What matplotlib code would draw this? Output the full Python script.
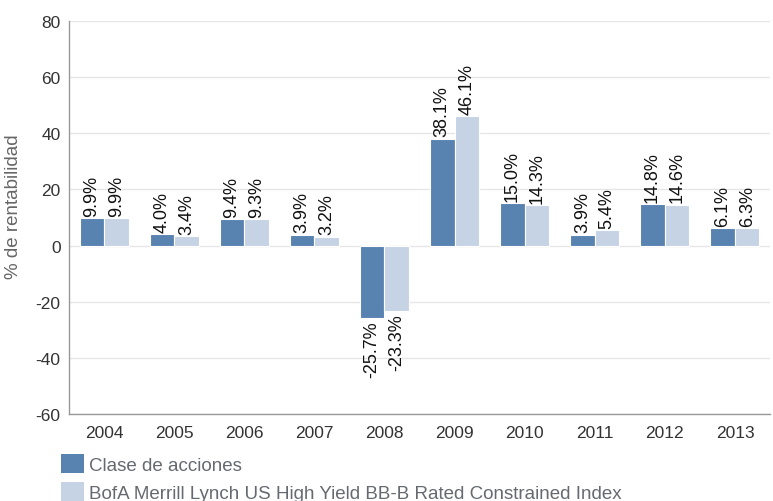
import numpy as np
import matplotlib
matplotlib.use('Agg')
import matplotlib.pyplot as plt
from matplotlib.patches import Patch

plt.rcParams['font.family'] = ['Liberation Sans', 'DejaVu Sans']
plt.rcParams['axes.unicode_minus'] = False

# data
years = ['2004', '2005', '2006', '2007', '2008', '2009', '2010', '2011', '2012', '2013']
clase = [9.9, 4.0, 9.4, 3.9, -25.7, 38.1, 15.0, 3.9, 14.8, 6.1]
bofa = [9.9, 3.4, 9.3, 3.2, -23.3, 46.1, 14.3, 5.4, 14.6, 6.3]
series_names = ['Clase de acciones', 'BofA Merrill Lynch US High Yield BB-B Rated Constrained Index']
y_ticks = [-60, -40, -20, 0, 20, 40, 60, 80]

dark = '#5882b0'
light = '#c5d3e5'
colors = [dark, light]

fig = plt.figure(figsize=(7.73, 5.02), dpi=100)
ax = fig.add_axes([69/773, 1 - 415/502, 701/773, (415 - 22)/502])

x = np.arange(len(years))
w = 0.35
for i, (vals, col) in enumerate(zip([clase, bofa], colors)):
    pos = x + (i - 0.5) * w
    ax.bar(pos, vals, width=w, color=col, edgecolor='white', linewidth=0.8, zorder=3)
    for p, v in zip(pos, vals):
        if v >= 0:
            ax.text(p, v + 0.8, f'{v:.1f}%', rotation=90, ha='center', va='bottom',
                    fontsize=13, color='#111111', zorder=4)
        else:
            ax.text(p, v - 0.8, f'{v:.1f}%', rotation=90, ha='center', va='top',
                    fontsize=13, color='#111111', zorder=4)

ax.set_xlim(-0.5, len(years) - 0.5)
ax.set_ylim(-60, 80)
ax.set_yticks(y_ticks)
ax.set_xticks(x)
ax.set_xticklabels(years)
ax.tick_params(axis='both', length=0, labelsize=12.5, labelcolor='#333333')
ax.tick_params(axis='y', pad=6)
ax.tick_params(axis='x', pad=8)
ax.grid(axis='y', color='#e6e6e6', linewidth=1, zorder=0)
for s in ['top', 'right']:
    ax.spines[s].set_visible(False)
for s in ['left', 'bottom']:
    ax.spines[s].set_color('#999999')
    ax.spines[s].set_linewidth(1)
ax.set_ylabel('% de rentabilidad', fontsize=13.5, color='#666666')
ax.yaxis.set_label_coords((22 - 69)/701, (415 - 207)/393)

handles = [Patch(facecolor=c, edgecolor='none') for c in colors]
fig.legend(handles, series_names, loc='upper left', bbox_to_anchor=(61/773, 1 - 455/502),
           frameon=False, fontsize=13.5, labelcolor='#666a70', handlelength=1.2,
           handleheight=1.2, handletextpad=0.3, labelspacing=0.45, borderaxespad=0,
           borderpad=0)

fig.savefig('out.png', dpi=100)
